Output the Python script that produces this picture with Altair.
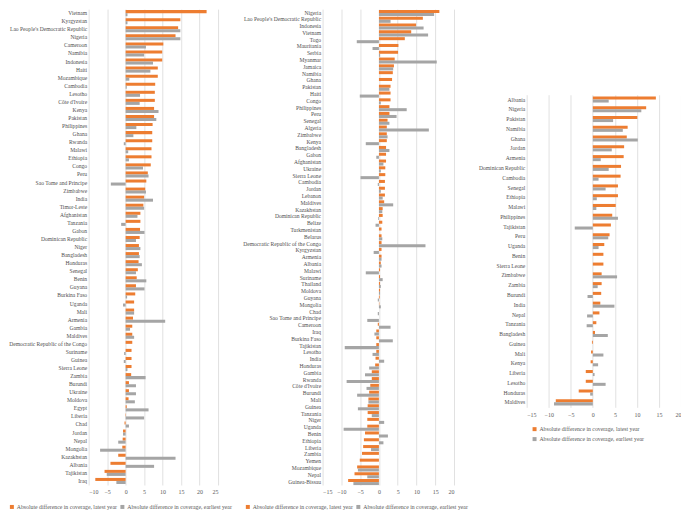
import altair as alt
import pandas as pd

LATEST = "Absolute difference in coverage, latest year"
EARLIEST = "Absolute difference in coverage, earliest year"
ORANGE = "#ED7D31"
GRAY = "#A5A5A5"
FONT = "Liberation Serif"

countries_a = ["Vietnam", "Kyrgyzstan", "Lao People's Democratic Republic", "Nigeria", "Cameroon", "Namibia",
               "Indonesia", "Haiti", "Mozambique", "Cambodia", "Lesotho", "Côte d'Ivoire", "Kenya", "Pakistan",
               "Philippines", "Ghana", "Rwanda", "Malawi", "Ethiopia", "Congo", "Peru", "Sao Tome and Principe",
               "Zimbabwe", "India", "Timor-Leste", "Afghanistan", "Tanzania", "Gabon", "Dominican Republic",
               "Niger", "Bangladesh", "Honduras", "Senegal", "Benin", "Guyana", "Burkina Faso", "Uganda", "Mali",
               "Armenia", "Gambia", "Maldives", "Democratic Republic of the Congo", "Suriname", "Guinea",
               "Sierra Leone", "Zambia", "Burundi", "Ukraine", "Moldova", "Egypt", "Liberia", "Chad", "Jordan",
               "Nepal", "Mongolia", "Kazakhstan", "Albania", "Tajikistan", "Iraq"]
latest_a = [21.9, 14.8, 14.2, 13.5, 10.2, 9.9, 9.9, 8.7, 8.7, 8.0, 7.9, 7.9, 7.7, 7.7, 7.3, 7.2, 7.2, 7.0, 7.0,
            6.8, 6.0, 5.6, 5.3, 5.0, 4.8, 4.0, 4.0, 3.9, 3.8, 3.6, 3.6, 3.5, 3.3, 3.0, 2.8, 2.6, 2.3, 2.3, 2.0,
            1.8, 1.8, 1.8, 1.6, 1.6, 1.6, 1.5, 0.9, 0.9, 0.8, 0.3, 0.1, -0.3, -0.7, -0.8, -0.9, -2.0, -4.1,
            -5.7, -8.2]
earliest_a = [0.5, 0.5, 14.8, 14.8, 5.5, 5.0, 7.4, 6.7, 1.0, 0.3, 3.9, 3.8, 8.9, 8.3, 2.9, 2.1, -0.5, 0.7, 0.9,
              4.7, 6.2, -4.0, 5.5, 7.4, 5.0, 3.2, -1.2, 5.1, 2.8, 4.0, 3.8, 4.4, 2.8, 5.6, 5.1, 0.4, -0.7, 2.3,
              10.7, 1.2, 2.3, 0.0, -0.4, -0.5, 0.5, 5.4, 2.8, 2.8, 2.5, 6.2, 5.0, 0.9, -0.7, -2.0, -6.9, 13.5,
              7.7, -5.1, -2.5]

countries_b = ["Nigeria", "Lao People's Democratic Republic", "Indonesia", "Vietnam", "Togo", "Mauritania",
               "Serbia", "Myanmar", "Jamaica", "Namibia", "Ghana", "Pakistan", "Haiti", "Congo", "Philippines",
               "Peru", "Senegal", "Algeria", "Zimbabwe", "Kenya", "Bangladesh", "Gabon", "Afghanistan", "Ukraine",
               "Sierra Leone", "Cambodia", "Jordan", "Lebanon", "Maldives", "Kazakhstan", "Dominican Republic",
               "Belize", "Turkmenistan", "Belarus", "Democratic Republic of the Congo", "Kyrgyzstan", "Armenia",
               "Albania", "Malawi", "Suriname", "Thailand", "Moldova", "Guyana", "Mongolia", "Chad",
               "Sao Tome and Principe", "Cameroon", "Iraq", "Burkina Faso", "Tajikistan", "Lesotho", "India",
               "Honduras", "Gambia", "Rwanda", "Côte d'Ivoire", "Burundi", "Mali", "Guinea", "Tanzania", "Niger",
               "Uganda", "Benin", "Ethiopia", "Liberia", "Zambia", "Yemen", "Mozambique", "Nepal", "Guinea-Bissau"]
latest_b = [16.1, 11.7, 9.9, 8.6, 6.9, 5.2, 5.1, 4.2, 4.0, 3.7,
            3.5, 3.1, 3.1, 3.1, 2.8, 2.8, 2.3, 2.1, 2.1, 2.1,
            1.9, 1.9, 1.9, 1.7, 1.7, 1.6, 1.6, 1.6, 1.4, 1.0,
            1.0, 0.9, 0.7, 0.7, 0.7, 0.7, 0.7, 0.5, 0.3, 0.3,
            0.3, 0.3, 0.2, 0.1, 0.0, 0.0, -0.3, -0.7, -0.7, -0.7,
            -0.7, -0.9, -1.0, -1.9, -1.9, -2.3, -2.6, -2.8, -3.0, -3.0,
            -3.1, -3.1, -3.7, -4.0, -4.2, -4.5, -5.1, -5.8, -6.5, -8.2]
earliest_b = [14.7, 3.1, 11.9, 13.1, -5.9, -1.7, 0.3, 15.4, 3.8, 0.0,
              0.0, 2.8, -5.1, 0.5, 7.4, 4.7, 2.8, 13.3, 2.3, -3.5,
              2.8, -0.7, 1.2, 0.5, -4.9, -0.3, 0.5, 1.0, 3.8, 0.9,
              -0.2, -0.9, 0.0, 0.9, 12.4, -1.4, 0.7, 0.7, -3.5, 1.0,
              0.5, 0.3, -0.3, 0.5, -0.3, -3.1, 3.1, -1.2, 3.7, -9.1,
              -1.7, 1.4, -2.6, -3.7, -8.6, -3.3, -5.8, -2.8, -5.6, -1.9,
              1.4, -9.4, 2.4, 1.2, -2.1, 0.0, 0.0, -5.6, -3.1, -6.8]

countries_c = ["Albania", "Nigeria", "Pakistan", "Namibia", "Ghana", "Jordan", "Armenia", "Dominican Republic",
               "Cambodia", "Senegal", "Ethiopia", "Malawi", "Philippines", "Tajikistan", "Peru", "Uganda", "Benin",
               "Sierra Leone", "Zimbabwe", "Zambia", "Burundi", "India", "Nepal", "Tanzania", "Bangladesh",
               "Guinea", "Mali", "Kenya", "Liberia", "Lesotho", "Honduras", "Maldives"]
latest_c = [14.3, 12.1, 10.1, 7.9, 7.7, 7.1, 7.0, 6.4, 6.3, 5.7, 5.7, 5.2, 4.4, 4.1, 3.8, 2.6, 2.4, 2.4, 2.0,
            2.0, 1.9, 1.7, 1.5, 0.8, 0.5, -0.2, -0.4, -0.5, -1.6, -1.6, -3.2, -8.4]
earliest_c = [3.6, 11.0, 4.6, 6.8, 10.2, 4.3, 1.8, 3.6, 1.3, 2.9, 0.9, 0.8, 5.7, -4.1, 3.5, 1.3, 0.0, 0.0, 5.5,
              1.1, -1.2, 4.9, -1.3, -1.4, 3.4, 0.0, 2.4, 1.2, 0.4, 2.9, -0.6, -8.8]


def panel(countries, latest, earliest, xmin, xmax, w, h, pin, lx, ly, direction):
    rows = []
    for c, a, b in zip(countries, latest, earliest):
        rows.append({"country": c, "series": LATEST, "value": a})
        rows.append({"country": c, "series": EARLIEST, "value": b})
    df = pd.DataFrame(rows)
    ticks = list(range(xmin, xmax + 1, 5))
    return alt.Chart(df).mark_bar().encode(
        x=alt.X("value:Q",
                scale=alt.Scale(domain=[xmin, xmax], nice=False, zero=False),
                axis=alt.Axis(values=ticks, title=None, grid=True, domain=False, ticks=False,
                              labelFontSize=6, labelFont=FONT, labelColor="#595959",
                              gridColor="#D9D9D9", gridWidth=0.8, labelPadding=4)),
        y=alt.Y("country:N", sort=countries,
                scale=alt.Scale(paddingInner=pin, paddingOuter=pin / 2),
                axis=alt.Axis(title=None, domain=False, ticks=False, grid=False,
                              labelFontSize=5.6, labelFont=FONT, labelColor="#505050",
                              labelPadding=2, labelLimit=300)),
        yOffset=alt.YOffset("series:N", sort=[LATEST, EARLIEST],
                            scale=alt.Scale(paddingInner=0, paddingOuter=0)),
        color=alt.Color("series:N",
                        scale=alt.Scale(domain=[LATEST, EARLIEST], range=[ORANGE, GRAY]),
                        legend=alt.Legend(title=None, orient="none", legendX=lx, legendY=ly,
                                          direction=direction, symbolType="square", symbolSize=16,
                                          symbolStrokeWidth=0, labelFontSize=5.8, labelFont=FONT,
                                          labelColor="#595959", columnPadding=2, rowPadding=3,
                                          labelLimit=400, labelOffset=2)),
    ).properties(width=w, height=h)


H = 478
left = panel(countries_a, latest_a, earliest_a, -10, 25, 130, H, 0.25, -80, H + 19, "horizontal")
middle = panel(countries_b, latest_b, earliest_b, -15, 20, 132, H, 0.25, -78, H + 19, "horizontal")
RH = 314
right = panel(countries_c, latest_c, earliest_c, -15, 20, 155, RH, 0.36, 5, RH + 19, "vertical")

spacer = alt.Chart(pd.DataFrame({"v": [0]})).mark_point(opacity=0, size=1).encode(
    x=alt.value(5), y=alt.value(40)
).properties(width=10, height=86)

right_col = alt.vconcat(spacer, right, spacing=0).resolve_scale(color="independent")
chart = alt.hconcat(left, middle, right_col, spacing=10).resolve_scale(
    color="independent", x="independent", y="independent"
).properties(
    padding={"left": 0, "top": 0, "right": 0, "bottom": 0}
).configure(
    font=FONT, background="white",
    view=alt.ViewConfig(strokeWidth=0, stroke="transparent")
)

chart.save("out.html", embed_options={"renderer": "svg", "actions": False})
